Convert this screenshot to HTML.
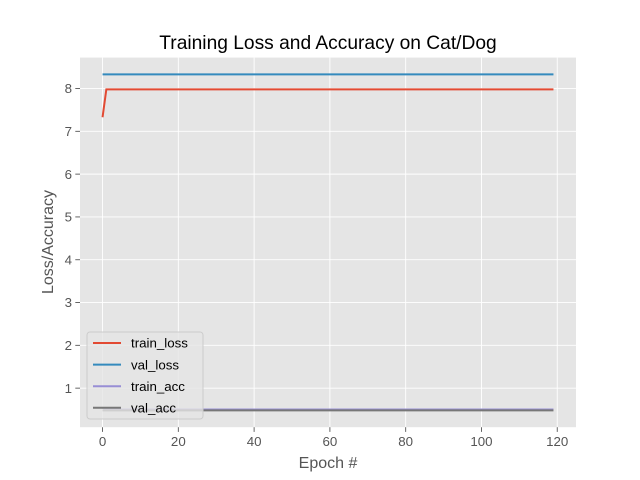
<!DOCTYPE html>
<html><head><meta charset="utf-8"><style>
html,body{margin:0;padding:0;background:#fff;}
svg{display:block;font-family:"Liberation Sans","DejaVu Sans",sans-serif;}
</style></head><body>
<svg id="chart" width="640" height="480" viewBox="0 0 640 480">
<rect x="0" y="0" width="640" height="480" fill="#fff"/>
<rect x="80" y="57.6" width="496" height="369.6" fill="#E5E5E5"/>
<g id="grid"></g>
<g id="series"></g>
<g id="ticks"></g>
<text x="328" y="49" text-anchor="middle" font-size="19.2" fill="#000">Training Loss and Accuracy on Cat/Dog</text>
<text x="328" y="468" text-anchor="middle" font-size="16" fill="#555">Epoch #</text>
<text transform="translate(53,242) rotate(-90)" text-anchor="middle" font-size="16" fill="#555">Loss/Accuracy</text>
<g id="legend"></g>
</svg>
<script>
const xTicks=[0,20,40,60,80,100,120];
const yTicks=[1,2,3,4,5,6,7,8];
const seriesNames=["train_loss","val_loss","train_acc","val_acc"];
const seriesColors=["#E24A33","#348ABD","#988ED5","#777777"];
const trainLoss=[7.33,7.98,7.98,7.98,7.98,7.98,7.98,7.98,7.98,7.98,7.98,7.98,7.98,7.98,7.98,7.98,7.98,7.98,7.98,7.98,
7.98,7.98,7.98,7.98,7.98,7.98,7.98,7.98,7.98,7.98,7.98,7.98,7.98,7.98,7.98,7.98,7.98,7.98,7.98,7.98,
7.98,7.98,7.98,7.98,7.98,7.98,7.98,7.98,7.98,7.98,7.98,7.98,7.98,7.98,7.98,7.98,7.98,7.98,7.98,7.98,
7.98,7.98,7.98,7.98,7.98,7.98,7.98,7.98,7.98,7.98,7.98,7.98,7.98,7.98,7.98,7.98,7.98,7.98,7.98,7.98,
7.98,7.98,7.98,7.98,7.98,7.98,7.98,7.98,7.98,7.98,7.98,7.98,7.98,7.98,7.98,7.98,7.98,7.98,7.98,7.98,
7.98,7.98,7.98,7.98,7.98,7.98,7.98,7.98,7.98,7.98,7.98,7.98,7.98,7.98,7.98,7.98,7.98,7.98,7.98,7.98];
const valLoss=[8.33,8.33,8.33,8.33,8.33,8.33,8.33,8.33,8.33,8.33,8.33,8.33,8.33,8.33,8.33,8.33,8.33,8.33,8.33,8.33,
8.33,8.33,8.33,8.33,8.33,8.33,8.33,8.33,8.33,8.33,8.33,8.33,8.33,8.33,8.33,8.33,8.33,8.33,8.33,8.33,
8.33,8.33,8.33,8.33,8.33,8.33,8.33,8.33,8.33,8.33,8.33,8.33,8.33,8.33,8.33,8.33,8.33,8.33,8.33,8.33,
8.33,8.33,8.33,8.33,8.33,8.33,8.33,8.33,8.33,8.33,8.33,8.33,8.33,8.33,8.33,8.33,8.33,8.33,8.33,8.33,
8.33,8.33,8.33,8.33,8.33,8.33,8.33,8.33,8.33,8.33,8.33,8.33,8.33,8.33,8.33,8.33,8.33,8.33,8.33,8.33,
8.33,8.33,8.33,8.33,8.33,8.33,8.33,8.33,8.33,8.33,8.33,8.33,8.33,8.33,8.33,8.33,8.33,8.33,8.33,8.33];
const trainAcc=[0.54,0.50,0.50,0.50,0.50,0.50,0.50,0.50,0.50,0.50,0.50,0.50,0.50,0.50,0.50,0.50,0.50,0.50,0.50,0.50,
0.50,0.50,0.50,0.50,0.50,0.50,0.50,0.50,0.50,0.50,0.50,0.50,0.50,0.50,0.50,0.50,0.50,0.50,0.50,0.50,
0.50,0.50,0.50,0.50,0.50,0.50,0.50,0.50,0.50,0.50,0.50,0.50,0.50,0.50,0.50,0.50,0.50,0.50,0.50,0.50,
0.50,0.50,0.50,0.50,0.50,0.50,0.50,0.50,0.50,0.50,0.50,0.50,0.50,0.50,0.50,0.50,0.50,0.50,0.50,0.50,
0.50,0.50,0.50,0.50,0.50,0.50,0.50,0.50,0.50,0.50,0.50,0.50,0.50,0.50,0.50,0.50,0.50,0.50,0.50,0.50,
0.50,0.50,0.50,0.50,0.50,0.50,0.50,0.50,0.50,0.50,0.50,0.50,0.50,0.50,0.50,0.50,0.50,0.50,0.50,0.50];
const valAcc=[0.48,0.48,0.48,0.48,0.48,0.48,0.48,0.48,0.48,0.48,0.48,0.48,0.48,0.48,0.48,0.48,0.48,0.48,0.48,0.48,
0.48,0.48,0.48,0.48,0.48,0.48,0.48,0.48,0.48,0.48,0.48,0.48,0.48,0.48,0.48,0.48,0.48,0.48,0.48,0.48,
0.48,0.48,0.48,0.48,0.48,0.48,0.48,0.48,0.48,0.48,0.48,0.48,0.48,0.48,0.48,0.48,0.48,0.48,0.48,0.48,
0.48,0.48,0.48,0.48,0.48,0.48,0.48,0.48,0.48,0.48,0.48,0.48,0.48,0.48,0.48,0.48,0.48,0.48,0.48,0.48,
0.48,0.48,0.48,0.48,0.48,0.48,0.48,0.48,0.48,0.48,0.48,0.48,0.48,0.48,0.48,0.48,0.48,0.48,0.48,0.48,
0.48,0.48,0.48,0.48,0.48,0.48,0.48,0.48,0.48,0.48,0.48,0.48,0.48,0.48,0.48,0.48,0.48,0.48,0.48,0.48];

const NS="http://www.w3.org/2000/svg";
const L=80,R=576,T=57.6,B=427.2;
const allSeries=[trainLoss,valLoss,trainAcc,valAcc];
const n=Math.max(...allSeries.map(s=>s.length));
const xmin=-(n-1)*0.05, xmax=(n-1)*1.05;
const allVals=allSeries.flat();
const dmin=Math.min(...allVals), dmax=Math.max(...allVals), pad=(dmax-dmin)*0.05;
const ymin=dmin-pad, ymax=dmax+pad;
const sx=v=>L+(v-xmin)/(xmax-xmin)*(R-L);
const sy=v=>B-(v-ymin)/(ymax-ymin)*(B-T);
function mk(tag,attrs,parent){const e=document.createElementNS(NS,tag);for(const k in attrs)e.setAttribute(k,attrs[k]);parent.appendChild(e);return e;}
const grid=document.getElementById('grid'),ticks=document.getElementById('ticks'),ser=document.getElementById('series'),leg=document.getElementById('legend');
xTicks.forEach(t=>{const x=sx(t);
 const g=mk('line',{x1:x,x2:x,y1:T,y2:B,stroke:'#fff','stroke-width':0.9},grid);
 
 
 const tk=mk('line',{x1:x,x2:x,y1:B,y2:B+4.7,stroke:'#555','stroke-width':0.9},ticks);
 
 
 const tx=mk('text',{x:x,y:B+19,'text-anchor':'middle','font-size':13.3,fill:'#555'},ticks);tx.textContent=t;
 
 
});
yTicks.forEach(t=>{const y=sy(t);
 const g=mk('line',{x1:L,x2:R,y1:y,y2:y,stroke:'#fff','stroke-width':0.9},grid);
 
 
 const tk=mk('line',{x1:L-4.7,x2:L,y1:y,y2:y,stroke:'#555','stroke-width':0.9},ticks);
 
 
 const tx=mk('text',{x:L-8,y:y+4.7,'text-anchor':'end','font-size':13.3,fill:'#555'},ticks);tx.textContent=t;
 
 
});
allSeries.forEach((s,i)=>{
 const p=mk('polyline',{points:s.map((v,j)=>sx(j)+','+sy(v)).join(' '),fill:'none',stroke:seriesColors[i],'stroke-width':2},ser);
 
 
});
const box=mk('rect',{x:87,y:332,width:116,height:87,rx:3,fill:'#E5E5E5','fill-opacity':0.8,stroke:'#ccc','stroke-width':1},leg);


seriesNames.forEach((nm,i)=>{const y=343+i*21.6;
 const ln=mk('line',{x1:93,x2:121,y1:y,y2:y,stroke:seriesColors[i],'stroke-width':2},leg);
 
 
 const tx=mk('text',{x:131,y:y+4.7,'font-size':13.3,fill:'#000'},leg);tx.textContent=nm;
 
 
});
</script>
</body></html>
